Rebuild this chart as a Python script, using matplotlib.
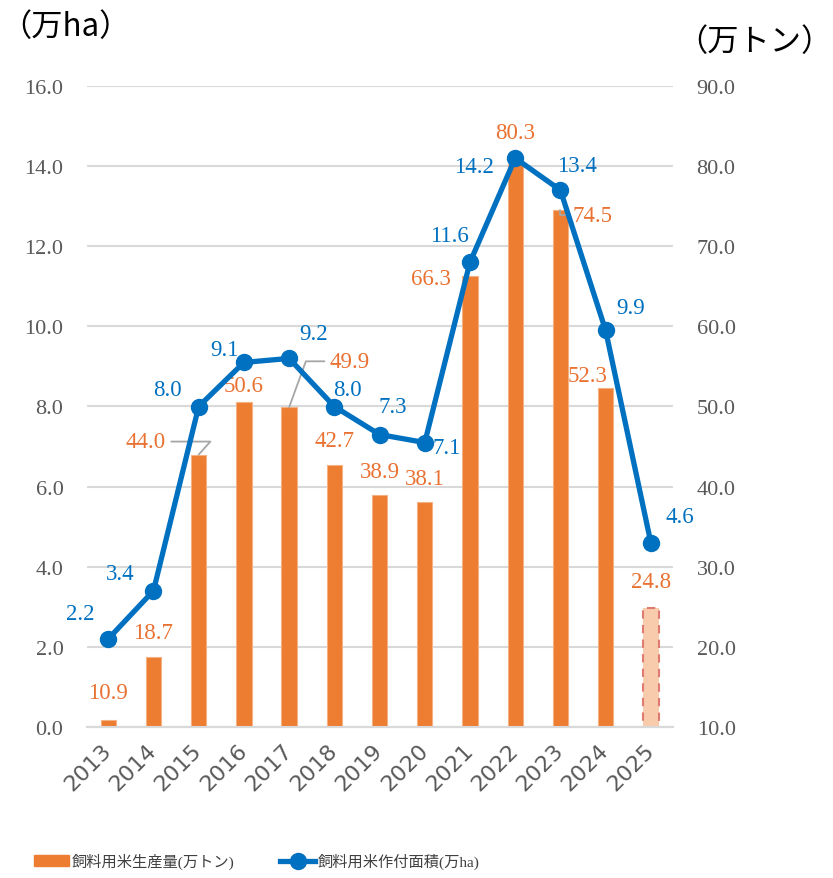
import matplotlib
matplotlib.use('Agg')
import matplotlib.pyplot as plt
from matplotlib.lines import Line2D
from matplotlib.patches import Patch
import matplotlib.transforms as mtransforms

# ---------------- data ----------------
years = ['2013', '2014', '2015', '2016', '2017', '2018', '2019',
         '2020', '2021', '2022', '2023', '2024', '2025']
production = [10.9, 18.7, 44.0, 50.6, 49.9, 42.7, 38.9, 38.1, 66.3, 80.3, 74.5, 52.3, 24.8]  # 万トン
area = [2.2, 3.4, 8.0, 9.1, 9.2, 8.0, 7.3, 7.1, 11.6, 14.2, 13.4, 9.9, 4.6]  # 万ha
left_ticks = [0, 2, 4, 6, 8, 10, 12, 14, 16]
right_ticks = [10, 20, 30, 40, 50, 60, 70, 80, 90]
bar_label = '飼料用米生産量(万トン)'
line_label = '飼料用米作付面積(万ha)'
left_unit = '（万ha）'
right_unit = '（万トン）'

# label offsets (pixels) – styling only
line_off = [(-28, 25), (-33, 17), (-31, 17), (-19, 13), (24, 25), (13, 17), (13, 28),
            (22, -5), (-21, 27), (-41, -8), (17, 25), (25, 23), (29, 26)]
bar_off = [(0, 27), (0, 25), (-53, 13), (0, 16), (61, 46), (0, 24), (0, 24),
           (0, 23), (-39, -3), (0, 31), (32, -5), (-18, 13), (0, 27)]
leader = {2: 'angle,angleA=0,angleB=48', 4: 'angle,angleA=0,angleB=70',
          10: 'angle,angleA=0,angleB=90'}

ORANGE = '#ED7D31'
ORANGE_TXT = '#E97132'
BLUE = '#0070C0'
GRAY = '#595959'
GRID = '#D9D9D9'
SERIF = ['Liberation Serif', 'Noto Sans CJK JP']

fig = plt.figure(figsize=(8.33, 8.79), dpi=100)
ax = fig.add_axes([87 / 833, 1 - 728 / 879, (673 - 87) / 833, (728 - 87) / 879])
ax2 = ax.twinx()
ax.set_zorder(2)
ax2.set_zorder(1)
ax.patch.set_visible(False)

x = list(range(len(years)))

# bars on right axis
colors = [ORANGE] * (len(years) - 1) + ['#F8CBAD']
bars = ax2.bar(x, production, width=0.34, color=colors, edgecolor='#F4B183',
               linewidth=0.8, zorder=3)
bars[-1].set_edgecolor('#E07B70')
bars[-1].set_linestyle((0, (4, 3)))
bars[-1].set_linewidth(1.5)
ax2.set_ylim(10, 90)
ax2.set_yticks(right_ticks)
ax2.set_yticklabels([f'{t:.1f}' for t in right_ticks])
ax2.yaxis.grid(True, color=GRID, linewidth=1.5, zorder=0)
ax2.set_axisbelow(True)

# line on left axis
ax.plot(x, area, color=BLUE, linewidth=3.8, marker='o', markersize=11.5,
        solid_capstyle='round', zorder=5)
ax.set_ylim(0, 16)
ax.set_yticks(left_ticks)
ax.set_yticklabels([f'{t:.1f}' for t in left_ticks])
ax.set_xlim(-0.47, 12.49)
ax.set_xticks(x)

for a in (ax, ax2):
    for s in ('top', 'left', 'right'):
        a.spines[s].set_visible(False)
    a.spines['bottom'].set_color(GRID)
    a.spines['bottom'].set_linewidth(1.5)
    a.tick_params(length=0)

for lab in list(ax.get_yticklabels()) + list(ax2.get_yticklabels()):
    lab.set_fontfamily(SERIF)
    lab.set_fontsize(16)
    lab.set_color(GRAY)
ax.tick_params(axis='y', pad=17)
ax2.tick_params(axis='y', pad=17)

offset = mtransforms.ScaledTranslation(9 / 100, -6 / 100, fig.dpi_scale_trans)
ax.set_xticklabels(years, rotation=45, ha='right', va='center',
                   rotation_mode='anchor', fontsize=16, color=GRAY,
                   family='DejaVu Sans')
for lab in ax.get_xticklabels():
    lab.set_transform(lab.get_transform() + offset)
ax.tick_params(axis='x', pad=14)

# data labels
for i, v in enumerate(area):
    ax.annotate(f'{v:.1f}', (x[i], v), xytext=line_off[i], textcoords='offset pixels',
                ha='center', va='center', fontsize=16.5, color=BLUE,
                family=SERIF, zorder=6)
for i, v in enumerate(production):
    kw = {}
    if i in leader:
        kw['arrowprops'] = dict(arrowstyle='-', color='#A6A6A6', lw=1.3,
                                connectionstyle=leader[i], shrinkA=2, shrinkB=0,
                                relpos=(1, 0.5) if bar_off[i][0] < 0 else (0, 0.5))
    ax2.annotate(f'{v:.1f}', (x[i], v), xytext=bar_off[i], textcoords='offset pixels',
                 ha='center', va='center', fontsize=16.5, color=ORANGE_TXT,
                 family=SERIF, zorder=6, annotation_clip=False, **kw)

# unit labels
fig.text(0.0, 1 - 27 / 879, left_unit, ha='left', va='center', fontsize=22.5,
         family=['Noto Sans CJK JP'], color='#000000')
fig.text(1.0, 1 - 42 / 879, right_unit, ha='right', va='center', fontsize=22.5,
         family=['Noto Sans CJK JP'], color='#000000')

# legend
handles = [Patch(facecolor=ORANGE, edgecolor=ORANGE),
           Line2D([], [], color=BLUE, linewidth=3.8, marker='o', markersize=11.5)]
fig.legend(handles, [bar_label, line_label], loc='center',
           bbox_to_anchor=(257 / 833, 1 - 862 / 879), ncol=2, frameon=False,
           prop={'family': SERIF, 'size': 11}, handlelength=2.3,
           handletextpad=0.15, columnspacing=3.0, labelcolor='#404040')

fig.savefig('out.png', dpi=100)
